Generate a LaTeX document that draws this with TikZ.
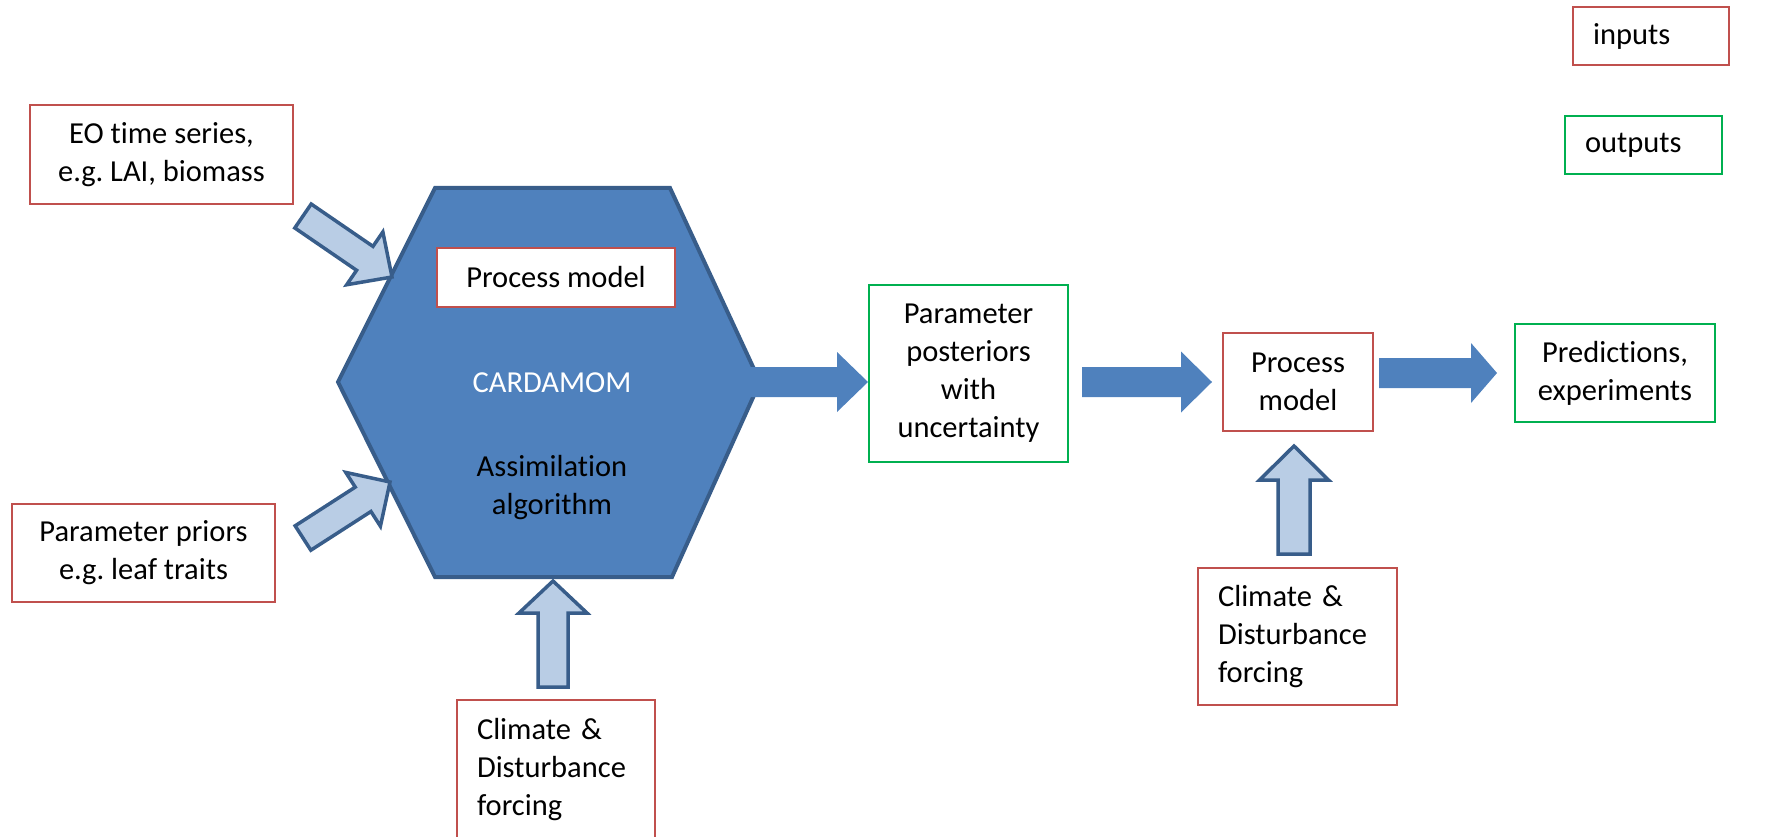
\documentclass[tikz,border=0pt]{standalone}
\usepackage{fontspec}
\setmainfont{Carlito}[Ligatures=NoCommon]
\usetikzlibrary{calc}
\definecolor{inred}{HTML}{C0504D}
\definecolor{outgreen}{HTML}{00B050}
\definecolor{hexfill}{HTML}{4F81BD}
\definecolor{hexline}{HTML}{385D8A}
\definecolor{lightfill}{HTML}{B9CDE5}
\frenchspacing
\newcommand{\BlkArrow}[6]{%
  \path ($(#3)!#6!(#2)$) coordinate (hb);
  \draw[#1] ($(#2)!#4!90:(#3)$) -- ($(hb)!#4!-90:(#2)$) -- ($(hb)!#5!-90:(#2)$) -- (#3)
    -- ($(hb)!#5!90:(#2)$) -- ($(hb)!#4!90:(#2)$) -- ($(#2)!#4!-90:(#3)$) -- cycle;
}
\tikzset{
  txt/.style={font=\fontsize{30.5}{38}\selectfont, text=black},
  inbox/.style={txt, draw=inred, line width=2pt, fill=white, inner sep=0pt, align=center},
  outbox/.style={txt, draw=outgreen, line width=2pt, fill=white, inner sep=0pt, align=center},
  leftbox/.style={inbox, align=left, text width=#1, inner xsep=20pt},
  hexagon/.style={fill=hexfill, draw=hexline, line width=4pt, line join=miter},
  lightarrow/.style={fill=lightfill, draw=hexline, line width=3.5pt, line join=miter},
  darkarrow/.style={fill=hexfill, draw=none},
}
\begin{document}
\begin{tikzpicture}[x=1pt,y=-1pt]
\clip (0,0) rectangle (1768,837);
\useasboundingbox (0,0) rectangle (1768,837);

% legend
\node[leftbox=116pt, minimum height=58pt] (leg in) at (1651,36) {inputs};
\node[outbox, align=left, text width=117pt, inner xsep=20pt, minimum height=58pt] (leg out) at (1643.5,145) {outputs};

% hexagon
\draw[hexagon] (435,188) coordinate (h1) -- (670,188) coordinate (h2) -- (760,382) coordinate (h3)
  -- (672,577) coordinate (h4) -- (435,577) coordinate (h5) -- (338,382) coordinate (h6) -- cycle;
\node[txt, text=white] (card) at (552,383) {CARDAMOM};
\node[txt, align=center] (assim) at (552,488) {Assimilation\\algorithm};
\node[inbox, minimum width=238pt, minimum height=59pt] (pm1) at (556,277.5) {Process model};

% input boxes
\node[inbox, minimum width=263pt, minimum height=99pt] (eo) at (161.5,154.5) {EO time series,\\e.g. LAI, biomass};
\node[inbox, minimum width=263pt, minimum height=98pt] (prior) at (143.5,553) {Parameter priors\\e.g. leaf traits};
\node[leftbox=158pt, minimum height=140pt] (clim1) at (556,770) {Climate \&\\Disturbance\\forcing};
\node[leftbox=159pt, minimum height=137pt] (clim2) at (1297.5,636.5) {Climate \&\\Disturbance\\forcing};

% chain
\node[outbox, minimum width=199pt, minimum height=177pt] (post) at (968.5,373.5) {Parameter\\posteriors\\with\\uncertainty};
\node[inbox, minimum width=150pt, minimum height=98pt] (pm2) at (1298,382) {Process\\model};
\node[outbox, minimum width=200pt, minimum height=98pt] (pred) at (1615,373) {Predictions,\\experiments};

% dark arrows
\coordinate (d1a) at (748,382);
\coordinate (d1b) at ($(post.west)+(0,8.5)$);
\BlkArrow{darkarrow}{d1a}{d1b}{15pt}{30pt}{31pt}
\coordinate (d2a) at ($(post.east)+(13,8.5)$);
\coordinate (d2b) at ($(pm2.west)+(-10,0)$);
\BlkArrow{darkarrow}{d2a}{d2b}{15pt}{30.5pt}{31pt}
\coordinate (d3a) at ($(pm2.east)+(5,-9)$);
\coordinate (d3b) at ($(pred.west)+(-17,0)$);
\BlkArrow{darkarrow}{d3a}{d3b}{15pt}{30pt}{26pt}

% light arrows
\coordinate (l1a) at (303,216);
\coordinate (l1b) at (392,277);
\BlkArrow{lightarrow}{l1a}{l1b}{14.5pt}{32pt}{33pt}
\coordinate (l2a) at (303,538);
\coordinate (l2b) at (390,482);
\BlkArrow{lightarrow}{l2a}{l2b}{14.5pt}{32pt}{32pt}
\coordinate (l3a) at ($(clim1.north)+(-3,-12)$);
\coordinate (l3b) at (553,581);
\BlkArrow{lightarrow}{l3a}{l3b}{15pt}{34pt}{32pt}
\coordinate (l4a) at ($(clim2.north)+(-3.5,-13)$);
\coordinate (l4b) at ($(pm2.south)+(-4,14)$);
\BlkArrow{lightarrow}{l4a}{l4b}{16pt}{34.5pt}{34pt}
\end{tikzpicture}
\end{document}
